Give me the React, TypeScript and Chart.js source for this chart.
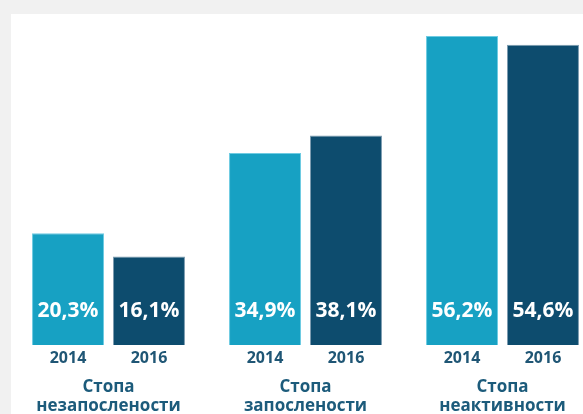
import React, { useEffect, useRef } from "react";
import { Chart, registerables } from "chart.js";

Chart.register(...registerables);

const categories: string[][] = [
  ["Стопа", "незапослености"],
  ["Стопа", "запослености"],
  ["Стопа", "неактивности"],
];
const years = ["2014", "2016"];
const values2014 = [20.3, 34.9, 56.2];
const values2016 = [16.1, 38.1, 54.6];

const FONT = "'Open Sans', 'Noto Sans', sans-serif";

const fmt = (v: number) => v.toFixed(1).replace(".", ",") + "%";

const labelPlugin = {
  id: "barLabels",
  afterDatasetsDraw(chart: any) {
    const ctx = chart.ctx;
    const bottom = chart.scales.y.getPixelForValue(0);
    const xs = chart.scales.x;
    ctx.save();
    ctx.textAlign = "center";
    ctx.textBaseline = "middle";
    chart.data.datasets.forEach((ds: any, di: number) => {
      const meta = chart.getDatasetMeta(di);
      meta.data.forEach((bar: any, i: number) => {
        ctx.fillStyle = "#ffffff";
        ctx.font = `bold 21px ${FONT}`;
        ctx.fillText(fmt(ds.data[i]), bar.x, bottom - 34);
        ctx.fillStyle = "#1f5675";
        ctx.font = `bold 16px ${FONT}`;
        ctx.fillText(years[di], bar.x, bottom + 13);
      });
    });
    ctx.fillStyle = "#1c5b7b";
    ctx.font = `bold 17px ${FONT}`;
    categories.forEach((lines, i) => {
      const cx = xs.getPixelForValue(i);
      lines.forEach((t, li) => {
        ctx.fillText(t, cx, bottom + 42 + li * 19);
      });
    });
    ctx.restore();
  },
};

export default function App() {
  const ref = useRef<HTMLCanvasElement>(null);
  useEffect(() => {
    if (!ref.current) return;
    const chart = new Chart(ref.current, {
      type: "bar",
      data: {
        labels: categories.map((c) => c.join(" ")),
        datasets: [
          {
            label: years[0],
            data: values2014,
            backgroundColor: "#17a1c3",
            borderColor: "#6fcbe2",
            borderWidth: 1,
            categoryPercentage: 0.822,
            barPercentage: 0.889,
          },
          {
            label: years[1],
            data: values2016,
            backgroundColor: "#0d4c6e",
            borderColor: "#7d9db1",
            borderWidth: 1,
            categoryPercentage: 0.822,
            barPercentage: 0.889,
          },
        ],
      },
      options: {
        animation: false,
        responsive: true,
        maintainAspectRatio: false,
        layout: { padding: { left: 10, right: 11, top: 15, bottom: 0 } },
        plugins: { legend: { display: false }, tooltip: { enabled: false } },
        scales: {
          x: {
            grid: { display: false },
            border: { display: false },
            ticks: { display: false },
            afterFit: (axis: any) => {
              axis.height = 69;
            },
          },
          y: {
            display: false,
            min: 0,
            max: 60,
          },
        },
      },
      plugins: [labelPlugin],
    });
    return () => chart.destroy();
  }, []);

  return (
    <div
      style={{
        position: "fixed",
        left: 0,
        top: 0,
        width: 583,
        height: 414,
        background: "#f1f1f1",
        overflow: "hidden",
      }}
    >
      <div
        style={{
          position: "absolute",
          left: 11,
          top: 14,
          right: 0,
          bottom: 0,
          background: "#ffffff",
        }}
      />
      <div
        style={{
          position: "absolute",
          left: 0,
          top: 0,
          width: 612,
          height: 414,
        }}
      >
        <canvas ref={ref} />
      </div>
    </div>
  );
}
